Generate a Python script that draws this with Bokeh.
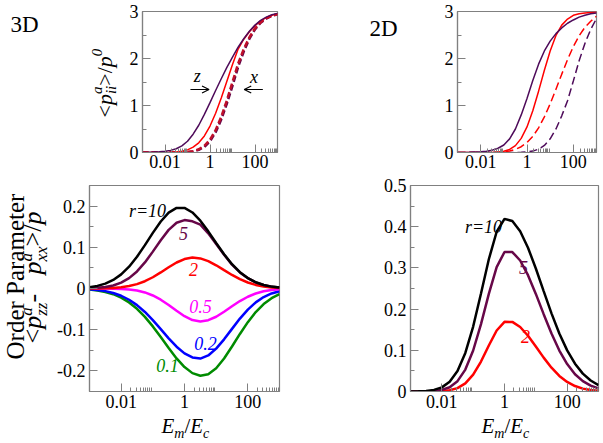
from math import pi
from bokeh.plotting import figure
from bokeh.models import Range1d, FixedTicker, CustomJSTickFormatter, Label, Arrow, OpenHead
from bokeh.layouts import row, column
from bokeh.embed import file_html
from bokeh.resources import INLINE

# ---------------- data ----------------
E = [0.001, 0.001778, 0.003162, 0.005623, 0.01, 0.01778, 0.03162, 0.05623, 0.1, 0.1778,
     0.3162, 0.5623, 1.0, 1.778, 3.162, 5.623, 10.0, 17.78, 31.62, 56.23, 100.0, 177.8,
     316.2, 562.3, 1000.0]

# 3D, <p_ii^a>/p^0
z3_r10 = [0.002, 0.004, 0.008, 0.014, 0.025, 0.045, 0.08, 0.14, 0.24, 0.39, 0.58, 0.81, 1.06,
          1.32, 1.57, 1.81, 2.03, 2.24, 2.42, 2.58, 2.71, 2.81, 2.88, 2.93, 2.96]
z3_r2 = [0.0, 0.0, 0.0, 0.001, 0.002, 0.004, 0.011, 0.026, 0.056, 0.113, 0.206, 0.353, 0.563,
         0.836, 1.161, 1.514, 1.87, 2.2, 2.41, 2.57, 2.70, 2.80, 2.87, 2.92, 2.95]
x3_r2 = [0.0, 0.0, 0.0, 0.0, 0.0, 0.0, 0.001, 0.004, 0.011, 0.029, 0.068, 0.143, 0.274, 0.476,
         0.758, 1.109, 1.5, 1.89, 2.2, 2.45, 2.64, 2.77, 2.86, 2.91, 2.94]
x3_r10 = [0.0, 0.0, 0.0, 0.0, 0.0, 0.0, 0.001, 0.003, 0.008, 0.022, 0.055, 0.12, 0.24, 0.43,
          0.70, 1.04, 1.42, 1.82, 2.15, 2.42, 2.62, 2.76, 2.85, 2.91, 2.94]

# 2D, <p_ii^a>/p^0
z2_r10 = [0.0, 0.002, 0.004, 0.008, 0.015, 0.028, 0.05, 0.09, 0.16, 0.29, 0.5, 0.8, 1.15,
          1.53, 1.88, 2.16, 2.37, 2.53, 2.65, 2.75, 2.82, 2.88, 2.92, 2.95, 2.97]
z2_r2 = [0.0, 0.0, 0.0, 0.0, 0.0, 0.001, 0.002, 0.008, 0.025, 0.064, 0.146, 0.30, 0.544,
         0.887, 1.305, 1.749, 2.159, 2.49, 2.71, 2.84, 2.92, 2.95, 2.97, 2.98, 2.99]
x2_r2 = [0.0, 0.0, 0.0, 0.0, 0.0, 0.0, 0.003, 0.007, 0.016, 0.034, 0.067, 0.123, 0.211, 0.343,
         0.525, 0.758, 1.036, 1.346, 1.667, 1.976, 2.253, 2.484, 2.664, 2.793, 2.90]
x2_r10 = [0.0, 0.0, 0.0, 0.0, 0.0, 0.0, 0.0, 0.0, 0.0, 0.0, 0.0, 0.005, 0.012, 0.03, 0.07,
          0.15, 0.29, 0.5, 0.78, 1.1, 1.52, 1.95, 2.32, 2.62, 2.85]

# 3D order parameter
op3_r10 = [0.0032, 0.0064, 0.0119, 0.0208, 0.0343, 0.053, 0.0771, 0.1052, 0.135, 0.1626,
           0.184, 0.1956, 0.1955, 0.1845, 0.1646, 0.1387, 0.1104, 0.0831, 0.059, 0.0397,
           0.0252, 0.0151, 0.0086, 0.0046, 0.0023]
op3_r5 = [0.0006, 0.0016, 0.0035, 0.0073, 0.0141, 0.0251, 0.0414, 0.0633, 0.0895, 0.1173,
          0.1423, 0.1597, 0.166, 0.163, 0.155, 0.134, 0.108, 0.082, 0.058, 0.039, 0.025,
          0.015, 0.0085, 0.0045, 0.0023]
op3_r2 = [0.0001, 0.0003, 0.0006, 0.0014, 0.003, 0.0059, 0.0106, 0.0177, 0.0273, 0.039,
          0.0515, 0.0631, 0.0715, 0.075, 0.073, 0.0664, 0.0563, 0.0445, 0.0329, 0.0227,
          0.0146, 0.0087, 0.0049, 0.0026, 0.0012]
op3_r05 = [0.0, -0.0001, -0.0002, -0.0004, -0.0011, -0.0024, -0.005, -0.0096, -0.0169,
           -0.0271, -0.040, -0.0542, -0.0673, -0.0766, -0.080, -0.077, -0.0686, -0.0565,
           -0.0432, -0.0305, -0.020, -0.0121, -0.0068, -0.0035, -0.0017]
op3_r02 = [-0.0019, -0.0035, -0.0063, -0.0108, -0.0176, -0.0273, -0.0404, -0.057, -0.0768,
           -0.0986, -0.1209, -0.1413, -0.1575, -0.1674, -0.170, -0.1625, -0.146, -0.1234,
           -0.098, -0.073, -0.0512, -0.0336, -0.0208, -0.0121, -0.0066]
op3_r01 = [-0.0027, -0.0048, -0.0084, -0.0139, -0.0222, -0.0338, -0.0493, -0.0688, -0.092,
           -0.1179, -0.1446, -0.1698, -0.1908, -0.2054, -0.2118, -0.2082, -0.1934, -0.1698,
           -0.1408, -0.1103, -0.0817, -0.0572, -0.0378, -0.0236, -0.0139]

# 2D order parameter
op2_r10 = [0.0001, 0.0004, 0.0013, 0.0038, 0.010, 0.0236, 0.0496, 0.0935, 0.1576, 0.2378,
           0.321, 0.3877, 0.419, 0.4137, 0.389, 0.349, 0.2986, 0.2437, 0.1897, 0.1408,
           0.0998, 0.0674, 0.0434, 0.0267, 0.0156]
op2_r5 = [0.0, 0.0001, 0.0003, 0.0012, 0.0038, 0.0104, 0.0251, 0.0532, 0.0995, 0.1636,
          0.2369, 0.3018, 0.3386, 0.3385, 0.318, 0.2824, 0.2369, 0.1877, 0.1406, 0.0995,
          0.0666, 0.042, 0.0251, 0.0142, 0.0075]
op2_r2 = [0.0, 0.0, 0.0, 0.0002, 0.0009, 0.003, 0.0083, 0.0198, 0.0409, 0.0727, 0.1117,
          0.148, 0.169, 0.1689, 0.1565, 0.1353, 0.1091, 0.0822, 0.0577, 0.0378, 0.0231,
          0.0132, 0.007, 0.0035, 0.0016]

XMAJ = [0.01, 1, 100]
XMIN = [0.02, 0.03, 0.04, 0.05, 0.06, 0.07, 0.08, 0.09, 2, 3, 4, 5, 6, 7, 8, 9,
        200, 300, 400, 500, 600, 700, 800, 900]
Y_TOP = [0, 1, 2, 3]
Y_TOP_MIN = [0.5, 1.5, 2.5]
Y_OP3 = [-0.2, -0.1, 0, 0.1, 0.2]
Y_OP3_MIN = [-0.25, -0.15, -0.05, 0.05, 0.15, 0.25]
Y_OP2 = [0, 0.1, 0.2, 0.3, 0.4, 0.5]
Y_OP2_MIN = [0.05, 0.15, 0.25, 0.35, 0.45]

# ---------------- style ----------------
FONT = "Liberation Serif"
GRAY = "#808080"
PURPLE = "#4e0b5a"
MAROON = "#670748"
RED = "#ff0000"
MAGENTA = "#ff00ff"
BLUE = "#0000ff"
GREEN = "#008b00"
MID = 0.34   # distance baseline -> text middle, in em

REG = {'<': 0.564, '>': 0.564, '/': 0.278, '-': 0.333, ' ': 0.25, '=': 0.564, '.': 0.25}
ITA = {'p': 0.5, 'a': 0.5, 'i': 0.278, 'z': 0.389, 'x': 0.444, 'E': 0.611, 'm': 0.722,
       'c': 0.444, 'r': 0.389, '=': 0.675}


def tw(txt, size, italic):
    tab = ITA if italic else REG
    return sum(tab.get(ch, 0.5) for ch in txt) * size


def make_fig(w, h, bl, br, bt, bb, y0, y1, yt, ymin, xstand):
    p = figure(width=w, height=h, x_axis_type="log", x_range=Range1d(1e-3, 1e3),
               y_range=Range1d(y0, y1), output_backend="svg", toolbar_location=None,
               min_border_left=bl, min_border_right=br, min_border_top=bt,
               min_border_bottom=bb)
    p.grid.visible = False
    p.outline_line_color = GRAY
    p.outline_line_width = 1.2
    p.background_fill_color = "white"
    p.border_fill_color = "white"
    fmt = "return String(Math.round(tick*100)/100);"
    for ax in (p.xaxis[0], p.yaxis[0]):
        ax.major_tick_in = 8
        ax.major_tick_out = 0
        ax.minor_tick_in = 4
        ax.minor_tick_out = 0
        ax.axis_line_color = GRAY
        ax.axis_line_width = 1.2
        ax.major_tick_line_color = GRAY
        ax.minor_tick_line_color = GRAY
        ax.major_label_text_font = FONT
        ax.major_label_text_font_size = "18px"
        ax.major_label_text_color = "black"
        ax.major_label_standoff = 4
        ax.formatter = CustomJSTickFormatter(code=fmt)
    p.xaxis[0].major_label_standoff = xstand
    p.xaxis[0].ticker = FixedTicker(ticks=XMAJ, minor_ticks=XMIN)
    p.yaxis[0].ticker = FixedTicker(ticks=yt, minor_ticks=ymin)
    return p


def text_fig(w, h, bt, bb, frame):
    # blank figure holding texts; its frame spans the page rectangle
    # `frame` (x0, y0, x1, y1) and its data coordinates are page pixels
    x0, y0, x1, y1 = frame
    p = figure(width=w, height=h, x_range=Range1d(x0, x1), y_range=Range1d(y1, y0),
               output_backend="svg", toolbar_location=None, x_axis_location=None,
               y_axis_location=None, min_border_left=0, min_border_right=0,
               min_border_top=bt, min_border_bottom=bb)
    p.grid.visible = False
    p.outline_line_color = None
    p.background_fill_color = "white"
    p.border_fill_color = "white"
    return p


def mk_label(x, y, txt, size, italic=False, color="black", align="center", angle=0.0):
    return Label(x=x, y=y, text=txt, text_font=FONT, text_font_size=f"{size}px",
                 text_font_style="italic" if italic else "normal", text_color=color,
                 text_align=align, text_baseline="middle", angle=angle)


# main frames in page pixels: left, top, width, height, y0, y1
FR_TL = (139, 11, 138, 141, 0, 3)
FR_TR = (457, 11, 139, 141, 0, 3)
FR_BL = (89, 185, 190, 206, -0.25, 0.25)
FR_BR = (410, 185, 188, 206, 0, 0.5)


def px2data(fr, px, py):
    left, top, w, h, y0, y1 = fr
    return 10 ** (-3 + 6 * (px - left) / w), y0 + (y1 - y0) * (top + h - py) / h


def plabel(p, fr, px, py, txt, size, italic=False, color="black"):
    x, y = px2data(fr, px, py)
    p.add_layout(mk_label(x, y, txt, size, italic, color))


def runs(p, bx, by, parts, vertical=False):
    # (bx, by): start of the baseline, page pixels
    cur = 0.0
    for txt, size, italic, shift, adv in parts:
        if vertical:
            qx, qy = bx - shift - MID * size, by - cur
        else:
            qx, qy = bx + cur, by - shift - MID * size
        p.add_layout(mk_label(qx, qy, txt, size, italic, align="left",
                              angle=pi / 2 if vertical else 0.0))
        cur += tw(txt, size, italic) if adv is None else adv


# ---------------- figures ----------------
tl = make_fig(174, 174, 13, 23, 11, 22, 0, 3, Y_TOP, Y_TOP_MIN, 2)
tr = make_fig(203, 174, 57, 7, 11, 22, 0, 3, Y_TOP, Y_TOP_MIN, 2)
bl = make_fig(248, 240, 37, 21, 11, 23, -0.25, 0.25, Y_OP3, Y_OP3_MIN, 3)
br = make_fig(303, 240, 110, 5, 11, 23, 0, 0.5, Y_OP2, Y_OP2_MIN, 3)

tl_text = text_fig(126, 174, 11, 22, (0, 11, 126, 152))
tr_text = text_fig(100, 174, 11, 22, (300, 11, 400, 152))
bl_text = text_fig(52, 240, 11, 23, (0, 185, 52, 391))
xt_left = text_fig(300, 29, 0, 0, (0, 414, 300, 443))
xt_right = text_fig(303, 29, 0, 0, (300, 414, 603, 443))

# top-left: 3D
tl.line(E, x3_r10, line_color=MAROON, line_width=2.5, line_dash="6 3")
tl.line(E, x3_r2, line_color="#c0102a", line_width=2.5, line_dash="6 3")
tl.line(E, z3_r2, line_color=RED, line_width=1.5)
tl.line(E, z3_r10, line_color=PURPLE, line_width=1.5)

# top-right: 2D
tr.line(E, x2_r10, line_color=PURPLE, line_width=1.5, line_dash="8 4")
tr.line(E, x2_r2, line_color=RED, line_width=1.5, line_dash="8 4")
tr.line(E, z2_r2, line_color=RED, line_width=1.5)
tr.line(E, z2_r10, line_color=PURPLE, line_width=1.5)

# bottom-left: 3D order parameter
for ys, col in ((op3_r01, GREEN), (op3_r02, BLUE), (op3_r05, MAGENTA), (op3_r2, RED),
                (op3_r5, MAROON), (op3_r10, "black")):
    bl.line(E, ys, line_color=col, line_width=2.5)

# bottom-right: 2D order parameter
for ys, col in ((op2_r2, RED), (op2_r5, MAROON), (op2_r10, "black")):
    br.line(E, ys, line_color=col, line_width=2.5)

# arrows and z / x marks in 3D top panel
for (sx, ex) in ((188, 207), (262, 243)):
    x0, y0 = px2data(FR_TL, sx, 89)
    x1, y1 = px2data(FR_TL, ex, 89)
    tl.add_layout(Arrow(x_start=x0, y_start=y0, x_end=x1, y_end=y1, line_width=1.2,
                        end=OpenHead(size=7, line_width=1.2)))
plabel(tl, FR_TL, 195, 75, "z", 18, italic=True)
plabel(tl, FR_TL, 253, 76, "x", 18, italic=True)

# curve labels
for txt, px, py, col in (("r=10", 147, 210, "black"), ("5", 183, 233, MAROON),
                         ("2", 193, 269, RED), ("0.5", 200, 306, MAGENTA),
                         ("0.2", 205, 343, BLUE), ("0.1", 167, 365, GREEN)):
    plabel(bl, FR_BL, px, py, txt, 18, italic=True, color=col)
for txt, px, py, col in (("r=10", 483, 226, "black"), ("5", 523, 267, MAROON),
                         ("2", 525, 336, RED)):
    plabel(br, FR_BR, px, py, txt, 18, italic=True, color=col)

# panel titles
tl_text.add_layout(mk_label(24, 24, "3D", 23))
tr_text.add_layout(mk_label(383, 28, "2D", 23))

# axis titles (baseline start points in page pixels)
runs(tl_text, 111, 117, [("<", 22, False, 0, None), ("p", 22, True, 0, None),
                         ("a", 15, True, 9, 0), ("ii", 15, True, -5, None),
                         (">", 22, False, 0, None), ("/", 22, False, 0, None),
                         ("p", 22, True, 0, None), ("0", 15, True, 9, None)], vertical=True)
bl_text.add_layout(mk_label(23 - MID * 25, 276, "Order Parameter", 25, angle=pi / 2))
runs(bl_text, 41, 343, [("<", 26, False, 0, None), ("p", 26, True, 0, None),
                        ("a", 17, True, 9, 0), ("zz", 17, True, -6, None),
                        (" - ", 26, False, 0, 28), ("p", 26, True, 0, None),
                        ("a", 17, True, 9, 0), ("xx", 17, True, -6, None),
                        (">", 26, False, 0, None), ("/", 26, False, 0, None),
                        ("p", 26, True, 0, None)], vertical=True)
for p, sx in ((xt_left, 161), (xt_right, 481)):
    runs(p, sx, 433, [("E", 21, True, 0, None), ("m", 14, True, -5, None),
                      ("/", 21, False, 0, None), ("E", 21, True, 0, None),
                      ("c", 14, True, -5, None)])

layout = column(row(tl_text, tl, tr_text, tr),
                row(bl_text, bl, br),
                row(xt_left, xt_right))
open("out.html", "w").write(file_html(layout, INLINE))
